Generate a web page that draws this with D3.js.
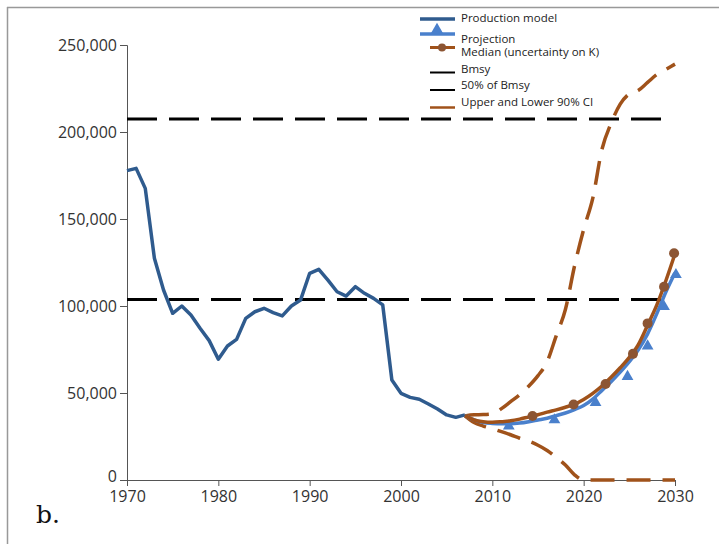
<!DOCTYPE html>
<html>
<head>
<meta charset="utf-8">
<script src="https://cdn.jsdelivr.net/npm/d3@7"></script>
<style>
  body { margin: 0; background: #fff; }
  svg { display: block; font-family: "Open Sans", sans-serif; }
</style>
</head>
<body>
<svg width="719" height="544"></svg>
<script>
"use strict";

// production model, 1970-2007
const prodYears = d3.range(1970, 2008);
const prodValues = [177800, 179100, 167600, 127400, 109200, 95800, 100000, 94800, 87200, 80100,
    69400, 77000, 80800, 92900, 96700, 98700, 96200, 94300, 100000, 103400,
    118800, 121100, 114900, 108200, 105700, 111100, 107300, 104400, 100600, 57500,
    49800, 47500, 46400, 43700, 40800, 37400, 36000, 37400];

// projections, 2007-2030
const projYears = d3.range(2007, 2031);
const projValues = [37000, 34500, 33000, 32500, 32300, 32300, 32700, 33500, 34500, 35500,
    37000, 38500, 40500, 42800, 46500, 51500, 56500, 62000, 68000, 75000,
    84000, 95500, 108000, 119000];
const medianValues = [37000, 34500, 33500, 33200, 33500, 34000, 35000, 36300, 37500, 39000,
    40300, 41800, 43600, 46300, 49800, 54000, 59000, 64500, 70500, 78000,
    89000, 100500, 114500, 130000];
const upperValues = [36800, 37500, 37600, 38000, 41000, 45000, 49000, 54000, 60000, 68000,
    83000, 98000, 123000, 144000, 162000, 190000, 205000, 216000, 222000, 224000,
    228500, 233000, 236000, 239000];
const lowerValues = [36800, 33000, 31000, 29500, 27800, 26000, 24000, 22300, 20000, 17000,
    13000, 8600, 3000, 0, 0, 0, 0, 0, 0, 0,
    0, 0, 0, 0];

// marker positions
const triYears = [2011.8, 2016.8, 2021.3, 2024.8, 2027.0, 2028.8, 2030.1];
const triValues = [31000, 34500, 44500, 59400, 77000, 99600, 118000];
const dotYears = [2014.4, 2018.9, 2022.4, 2025.4, 2027.0, 2028.8, 2029.9];
const dotValues = [36800, 43400, 55200, 72500, 90000, 111100, 130300];

const bmsy = 207400;
const halfBmsy = bmsy / 2;

const yTicks = [0, 50000, 100000, 150000, 200000, 250000];
const xTicks = [1970, 1980, 1990, 2000, 2010, 2020, 2030];

const legendItems = ["Production model", "Projection", "Median (uncertainty on K)",
    "Bmsy", "50% of Bmsy", "Upper and Lower 90% CI"];

const darkBlue = "#2f5b8e", lightBlue = "#4a80cc", brown = "#a0521a", dotBrown = "#8c5533";

const svg = d3.select("svg");

// frame
svg.append("line").attr("x1", 7).attr("x2", 719).attr("y1", 7.5).attr("y2", 7.5)
    .attr("stroke", "#999").attr("stroke-width", 1.5);
svg.append("line").attr("x1", 7.5).attr("x2", 7.5).attr("y1", 7).attr("y2", 544)
    .attr("stroke", "#999").attr("stroke-width", 1.5);

const x = d3.scaleLinear().domain([1970, 2030]).range([127, 675]);
const y = d3.scaleLinear().domain([0, 250000]).range([480, 45]);

const yAxis = svg.append("g")
    .attr("transform", "translate(127,0)")
    .call(d3.axisLeft(y).tickValues(yTicks).tickFormat(d3.format(",")).tickSize(7).tickPadding(3));
const xAxis = svg.append("g")
    .attr("transform", "translate(0,480)")
    .call(d3.axisBottom(x).tickValues(xTicks).tickFormat(d3.format("d")).tickSize(6).tickPadding(5));
[xAxis, yAxis].forEach(g => {
    g.select(".domain").attr("stroke", "#555");
    g.selectAll(".tick line").attr("stroke", "#555");
    g.selectAll(".tick text").attr("font-size", 16).attr("fill", "#333")
        .attr("font-family", "Open Sans, sans-serif");
});
yAxis.select(".tick text").attr("dy", "0.1em");

// reference lines
[bmsy, halfBmsy].forEach(v => {
    svg.append("line")
        .attr("x1", x(1970)).attr("x2", x(2029))
        .attr("y1", y(v)).attr("y2", y(v))
        .attr("stroke", "#000").attr("stroke-width", 3)
        .attr("stroke-dasharray", "30,12");
});

const line = d3.line().x(d => x(d[0])).y(d => y(d[1]));
const smooth = d3.line().x(d => x(d[0])).y(d => y(d[1])).curve(d3.curveMonotoneX);

svg.append("path")
    .datum(d3.zip(prodYears, prodValues))
    .attr("fill", "none").attr("stroke", darkBlue).attr("stroke-width", 3.5)
    .attr("stroke-linejoin", "round")
    .attr("d", line);

// CI
[upperValues, lowerValues].forEach(vals => {
    svg.append("path")
        .datum(d3.zip(projYears, vals))
        .attr("fill", "none").attr("stroke", brown).attr("stroke-width", 3.5)
        .attr("stroke-dasharray", "24,12")
        .attr("d", smooth);
});

// projection
svg.append("path")
    .datum(d3.zip(projYears, projValues))
    .attr("fill", "none").attr("stroke", lightBlue).attr("stroke-width", 3.5)
    .attr("d", smooth);
const tri = d3.symbol().type(d3.symbolTriangle).size(60);
svg.selectAll(".tri")
    .data(d3.zip(triYears, triValues))
    .enter().append("path")
    .attr("class", "tri")
    .attr("transform", d => `translate(${x(d[0])},${y(d[1])})`)
    .attr("d", tri)
    .attr("fill", lightBlue);

// median
svg.append("path")
    .datum(d3.zip(projYears, medianValues))
    .attr("fill", "none").attr("stroke", brown).attr("stroke-width", 3.5)
    .attr("d", smooth);
svg.selectAll(".dot")
    .data(d3.zip(dotYears, dotValues))
    .enter().append("circle")
    .attr("class", "dot")
    .attr("cx", d => x(d[0])).attr("cy", d => y(d[1]))
    .attr("r", 5)
    .attr("fill", dotBrown);

// legend
const legend = svg.append("g").attr("font-size", 11.5);
const rows = [
    {ty: 22, ly: 19, x1: 420, stroke: darkBlue, w: 3.5},
    {ty: 43, ly: 34, x1: 420, stroke: lightBlue, w: 3.5, tri: true},
    {ty: 56, ly: 47.5, x1: 430, stroke: brown, w: 3, dot: true},
    {ty: 73, ly: 72.5, x1: 430, stroke: "#000", w: 2},
    {ty: 89, ly: 90, x1: 430, stroke: "#000", w: 2},
    {ty: 106, ly: 107.5, x1: 430, stroke: brown, w: 2.5}
];
rows.forEach((r, i) => {
    legend.append("line").attr("x1", r.x1).attr("x2", 455).attr("y1", r.ly).attr("y2", r.ly)
        .attr("stroke", r.stroke).attr("stroke-width", r.w);
    if (r.tri) {
        legend.append("path").attr("d", d3.symbol().type(d3.symbolTriangle).size(70)())
            .attr("transform", `translate(437,${r.ly - 4})`).attr("fill", lightBlue);
    }
    if (r.dot) {
        legend.append("circle").attr("cx", 442).attr("cy", r.ly).attr("r", 4).attr("fill", dotBrown);
    }
    legend.append("text").attr("x", 461).attr("y", r.ty).text(legendItems[i])
        .attr("fill", "#222");
});

svg.append("text")
    .attr("x", 36).attr("y", 523)
    .style("font-family", "'DejaVu Serif', 'Liberation Serif', serif")
    .attr("font-size", 25)
    .attr("fill", "#111")
    .text("b.");
</script>
</body>
</html>
